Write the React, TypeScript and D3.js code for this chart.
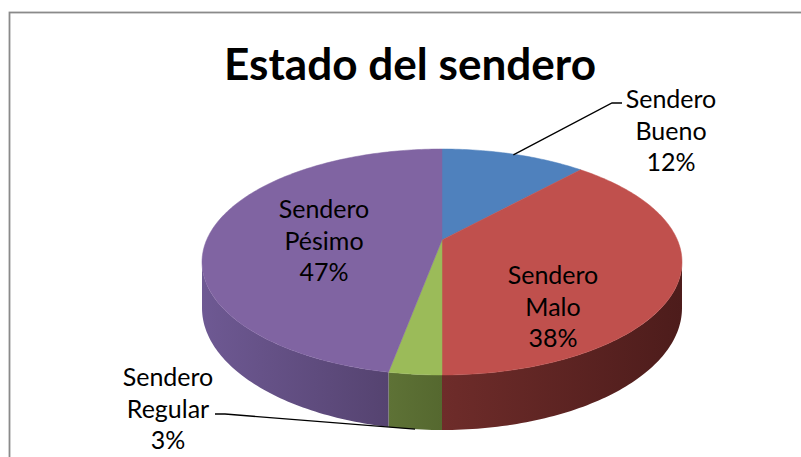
import React from "react";
import * as d3 from "d3";

// ---- data ----
const categories = ["Sendero Bueno", "Sendero Malo", "Sendero Regular", "Sendero Pésimo"];
const values = [4, 13, 1, 16];
const labelLines = [["Sendero", "Bueno"], ["Sendero", "Malo"], ["Sendero", "Regular"], ["Sendero", "Pésimo"]];
const title = "Estado del sendero";

// ---- styles ----
const topColors = ["#4F81BD", "#C0504D", "#9BBB59", "#8064A2"];
const sideLight = ["#3a5f8c", "#6e2c2a", "#5e7236", "#6e5993"];
const sideDark = ["#2c4a6e", "#4d1c1b", "#55682f", "#554370"];

// label anchor (baseline of first line) per slice, and leader usage
const labelLayout = [
  { x: 671, y: 108, leader: { hx0: 622, hx1: 612, hy: 103, r: 0.99, layer: 0 } },
  { x: 553, y: 284, leader: null },
  { x: 168, y: 386, leader: { hx0: 215, hx1: 225, hy: 414, r: 1.0, layer: 1 } },
  { x: 324, y: 218, leader: null },
];

const W = 801, H = 457;
const CX = 442, CY = 240, A = 235.4, B = 108.7, K = 0.1947, D0 = 44.3;
const LINE_H = 31.5;

function proj(theta: number, r: number, layer: number): [number, number] {
  const u = r * Math.sin(theta);
  const v = -r * Math.cos(theta);
  const w = 1 - K * v;
  return [CX + (A * u) / w, CY + (B * v) / w + (layer * D0) / w];
}

function arcPts(a0: number, a1: number, layer: number) {
  const n = Math.max(2, Math.ceil(((a1 - a0) * 180) / Math.PI));
  return d3.range(n + 1).map((i) => proj(a0 + ((a1 - a0) * i) / n, 1, layer));
}

export default function App() {
  const pie = d3.pie<number>().sort(null).startAngle(0).endAngle(2 * Math.PI);
  const arcs = pie(values);
  const total = d3.sum(values);
  const pct = d3.format(".0%");
  const line = d3.line();

  const vis0 = Math.acos(-K);
  const vis1 = 2 * Math.PI - vis0;

  const walls = arcs.map((a, i) => {
    const s = Math.max(a.startAngle, vis0);
    const e = Math.min(a.endAngle, vis1);
    if (e <= s) return null;
    const top = arcPts(s, e, 0);
    const bot = arcPts(s, e, 1).reverse();
    const pts = [...top, ...bot];
    const xs = pts.map((p) => p[0]);
    return { i, d: line(pts as [number, number][]) + "Z", x0: d3.min(xs)!, x1: d3.max(xs)! };
  });

  const tops = arcs.map((a, i) => {
    const pts = [proj(0, 0, 0), ...arcPts(a.startAngle, a.endAngle, 0)];
    return { i, d: line(pts as [number, number][]) + "Z" };
  });

  return (
    <svg width={W} height={H} style={{ position: "absolute", left: 0, top: 0, background: "#fff" }}
      fontFamily="Lato, 'Noto Sans', sans-serif">
      <defs>
        {walls.map((w) =>
          w ? (
            <linearGradient key={w.i} id={`wg${w.i}`} gradientUnits="userSpaceOnUse" x1={w.x0} x2={w.x1} y1={0} y2={0}>
              <stop offset="0%" stopColor={sideLight[w.i]} />
              <stop offset="100%" stopColor={sideDark[w.i]} />
            </linearGradient>
          ) : null
        )}
      </defs>
      <rect x={0} y={0} width={W} height={H} fill="#fff" />
      <rect x={9.5} y={12.5} width={900} height={600} fill="none" stroke="#8a8a8a" strokeWidth={1.8} />
      <text x={410} y={80} textAnchor="middle" fontSize={43} fontWeight="bold" fill="#000"
        textLength={372} lengthAdjust="spacingAndGlyphs">{title}</text>
      {walls.map((w) => (w ? <path key={"w" + w.i} d={w.d} fill={`url(#wg${w.i})`} /> : null))}
      {tops.map((t) => (
        <path key={"t" + t.i} d={t.d} fill={topColors[t.i]} stroke={topColors[t.i]} strokeWidth={0.5} />
      ))}
      {arcs.map((a, i) => {
        const L = labelLayout[i];
        if (!L.leader) return null;
        const mid = (a.startAngle + a.endAngle) / 2;
        const p = proj(mid, L.leader.r, L.leader.layer);
        const pts: [number, number][] = [[L.leader.hx0, L.leader.hy], [L.leader.hx1, L.leader.hy], p];
        return <path key={"l" + i} d={line(pts)!} fill="none" stroke="#000" strokeWidth={1.3} />;
      })}
      {arcs.map((a, i) => {
        const L = labelLayout[i];
        const lines = [...labelLines[i], pct(values[i] / total)];
        return (
          <text key={"lab" + i} x={L.x} y={L.y} textAnchor="middle" fontSize={25} fill="#000">
            {lines.map((s, j) => (
              <tspan key={j} x={L.x} y={L.y + j * LINE_H}>{s}</tspan>
            ))}
          </text>
        );
      })}
    </svg>
  );
}
